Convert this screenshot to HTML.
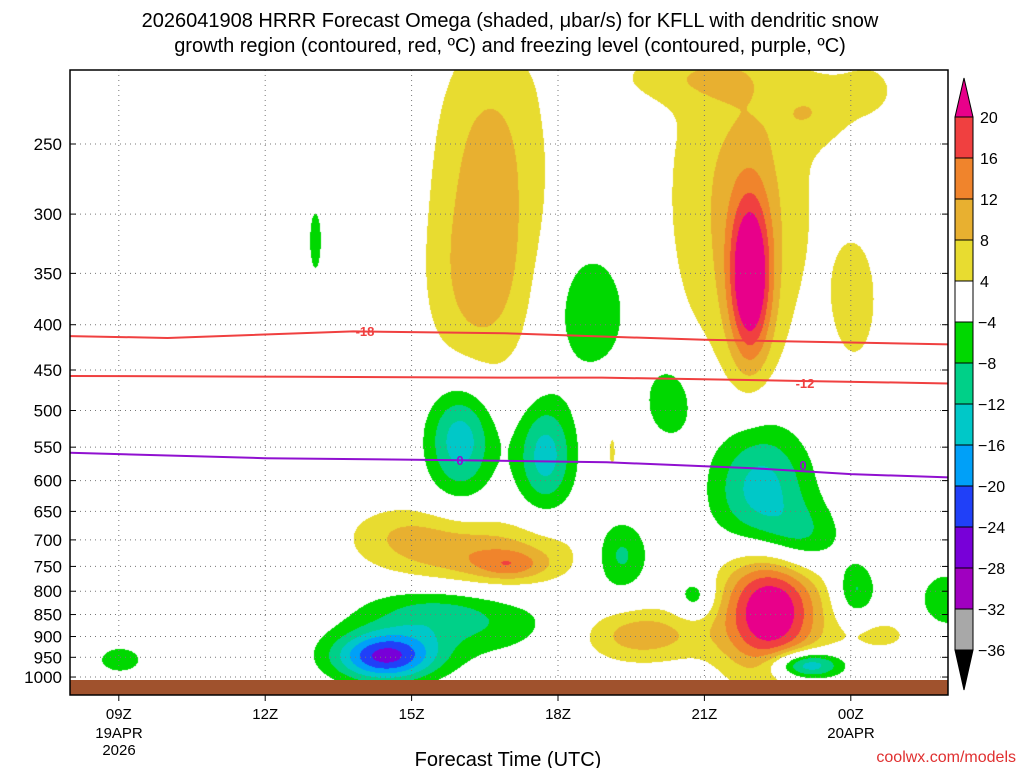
<!DOCTYPE html>
<html><head><meta charset="utf-8"><style>
html,body{margin:0;padding:0;background:#fff;width:1024px;height:768px;overflow:hidden;font-family:"Liberation Sans",sans-serif}
#wrap{position:relative;width:1024px;height:768px}
canvas{position:absolute;left:70px;top:70px}
svg{position:absolute;left:0;top:0}
</style></head><body>
<div id="wrap">
<canvas id="cv" width="878" height="610"></canvas>
<svg id="sv" width="1024" height="768"></svg>
</div>
<script>
// ---- data ----
const pressureTicks=[250,300,350,400,450,500,550,600,650,700,750,800,850,900,950,1000];
const timeTicks=[1,4,7,10,13,16]; // hours after 08Z
const timeLabels=["09Z","12Z","15Z","18Z","21Z","00Z"];
const levels=[-36,-32,-28,-24,-20,-16,-12,-8,-4,4,8,12,16,20];
const levelColors=["#000000","#a8a8a8","#a000c0","#7800d8","#2040f8","#00a0f8","#00c8c8","#00d088","#00d800","#ffffff","#e8dc30","#e8b030","#f0842c","#f04040","#e8008a"];
// omega blobs: hour, pressure, amplitude, sigma hours, sigma ln(p)
const blobHour=[8.61,8.40,13.93,13.73,16.09,16.39,15.20,12.50,8.40,9.02,6.76,14.34,11.68,16.60,5.02,10.66,7.99,9.73,12.30,14.14,14.96,11.27,6.45,8.20,7.38,1.02,12.81,16.09,17.93,15.06,11.10];
const blobPres=[254,365,355,289,375,217,230,210,728,747,682,835,895,895,321,385,539,561,486,615,700,728,948,872,840,955,812,797,818,968,555];
const blobAmp=[8.6,8,22,9,6,4.5,4.5,4.5,11,7,5,26,11,5,-6,-7,-15,-14,-7,-15,-9,-10,-24,-6,-6,-6,-8,-9,-8,-20,5];
const blobSx=[0.85,0.8,0.3,1.1,0.37,0.6,0.5,1.2,1.45,0.5,0.8,0.72,0.92,0.6,0.12,0.65,0.48,0.42,0.45,0.72,0.6,0.41,0.75,1.64,1.0,0.41,0.29,0.29,0.37,0.51,0.08];
const blobSl=[0.234,0.182,0.15,0.338,0.13,0.078,0.06,0.05,0.065,0.026,0.052,0.12,0.052,0.039,0.078,0.13,0.1,0.1,0.09,0.13,0.065,0.065,0.045,0.065,0.052,0.031,0.039,0.052,0.052,0.026,0.05];
const red18Hours=[0,2,5.8,8.9,13,18];
const red18Pres=[412,414,407,409,416,421];
const red12Hours=[0,4.7,8.9,10.9,15,18];
const red12Pres=[457,458,459,459,463,466];
const frzHours=[0,4,8,11,14,16,18];
const frzPres=[558,566,569,572,581,590,595];
// ---- axes ----
const X0=70,X1=948,Y0=70,Y1=695,PX=48.8;
const xOf=h=>X0+h*PX;
const yOf=p=>-1979+384.5*Math.log(p);
// ---- shading ----
const cv=document.getElementById('cv'),ctx=cv.getContext('2d');
const W=cv.width,H=cv.height,img=ctx.createImageData(W,H);
const rgb=levelColors.map(c=>[parseInt(c.substr(1,2),16),parseInt(c.substr(3,2),16),parseInt(c.substr(5,2),16)]);
const bx=blobHour.map(xOf),by=blobPres.map(yOf);
for(let j=0;j<H;j++){const y=j+Y0;for(let i=0;i<W;i++){const x=i+X0;let v=0;
for(let k=0;k<blobAmp.length;k++){const dx=(x-bx[k])/(blobSx[k]*PX),dy=(y-by[k])/(blobSl[k]*384.5);const d=dx*dx+dy*dy;if(d<20)v+=blobAmp[k]*Math.exp(-d/2);}
let idx=0;while(idx<levels.length&&v>=levels[idx])idx++;
const c=rgb[idx],o=(j*W+i)*4;img.data[o]=c[0];img.data[o+1]=c[1];img.data[o+2]=c[2];img.data[o+3]=255;}}
ctx.putImageData(img,0,0);
// ---- svg ----
const sv=document.getElementById('sv'),NS='http://www.w3.org/2000/svg';
function mk(t,a,txt){const e=document.createElementNS(NS,t);for(const k in a)e.setAttribute(k,a[k]);if(txt!==undefined)e.textContent=txt;sv.appendChild(e);return e;}
// grid
pressureTicks.forEach(p=>{const e=mk('line',{x1:X0,x2:X1,y1:yOf(p),y2:yOf(p),stroke:'#777','stroke-dasharray':'1 4','stroke-width':1});


const t=mk('text',{x:62,y:yOf(p)+6,'text-anchor':'end','font-size':17,fill:'#000'},String(p));


mk('line',{x1:X0,x2:X0+6,y1:yOf(p),y2:yOf(p),stroke:'#000'});mk('line',{x1:X1-6,x2:X1,y1:yOf(p),y2:yOf(p),stroke:'#000'});});
timeTicks.forEach((h,i)=>{const e=mk('line',{x1:xOf(h),x2:xOf(h),y1:Y0,y2:680,stroke:'#777','stroke-dasharray':'1 4'});


const t=mk('text',{x:xOf(h),y:719,'text-anchor':'middle','font-size':15,fill:'#000'},timeLabels[i]);


mk('line',{x1:xOf(h),x2:xOf(h),y1:Y1,y2:Y1+6,stroke:'#000'});});
// ground
const g=mk('rect',{x:X0,y:680,width:X1-X0,height:Y1-680,fill:'#a0522d'});


// lines
function pline(hs,ps,col,name){const pts=hs.map((h,i)=>xOf(h)+','+yOf(ps[i])).join(' ');const e=mk('polyline',{points:pts,fill:'none',stroke:col,'stroke-width':2});

}
pline(red18Hours,red18Pres,'#f04040','dgz-minus18-contour');
pline(red12Hours,red12Pres,'#f04040','dgz-minus12-contour');
pline(frzHours,frzPres,'#9010d0','freezing-level-contour');
function lab(x,y,t,c,n){const e=mk('text',{x:x,y:y+5,'text-anchor':'middle','font-size':13,'font-weight':'bold',fill:c},t);

}
lab(365,331,'-18','#f04040','label-minus18');lab(805,383,'-12','#f04040','label-minus12');
lab(460,460,'0','#9010d0','label-frz-1');lab(803,465,'0','#9010d0','label-frz-2');
// frame
const fr=mk('rect',{x:X0,y:Y0,width:X1-X0,height:Y1-Y0,fill:'none',stroke:'#000','stroke-width':1.5});


// titles
[['2026041908 HRRR Forecast Omega (shaded, \u03bcbar/s) for KFLL with dendritic snow',27,'title-line-1'],['growth region (contoured, red, \u00baC) and freezing level (contoured, purple, \u00baC)',52,'title-line-2']].forEach(a=>{const e=mk('text',{x:510,y:a[1],'text-anchor':'middle','font-size':20,fill:'#000'},a[0]);

});
[['19APR',119,738],['2026',119,755],['20APR',851,738]].forEach(a=>{const e=mk('text',{x:a[1],y:a[2],'text-anchor':'middle','font-size':15},a[0]);

});
const xt=mk('text',{x:508,y:766,'text-anchor':'middle','font-size':20},'Forecast Time (UTC)');


const cr=mk('text',{x:1016,y:762,'text-anchor':'end','font-size':16,fill:'#e03030'},'coolwx.com/models');


// colorbar
const CB0=955,CB1=973,top20=117,step=41;
for(let k=1;k<levelColors.length-1;k++){const r=mk('rect',{x:CB0,y:top20+(k-1)*step,width:CB1-CB0,height:step,fill:levelColors[levelColors.length-1-k],stroke:'#000','stroke-width':1});

}
const tp=mk('polygon',{points:`${CB0},${top20} ${CB1},${top20} ${(CB0+CB1)/2},78`,fill:levelColors[levelColors.length-1],stroke:'#000'});


const yb=top20+13*step;
const bt=mk('polygon',{points:`${CB0},${yb} ${CB1},${yb} ${(CB0+CB1)/2},690`,fill:'#000',stroke:'#000'});


for(let k=0;k<levels.length;k++){const v=levels[levels.length-1-k];const e=mk('text',{x:v<0?978:980,y:top20+k*step+6,'font-size':16},v<0?'\u2212'+(-v):String(v));

}
</script>
</body></html>
